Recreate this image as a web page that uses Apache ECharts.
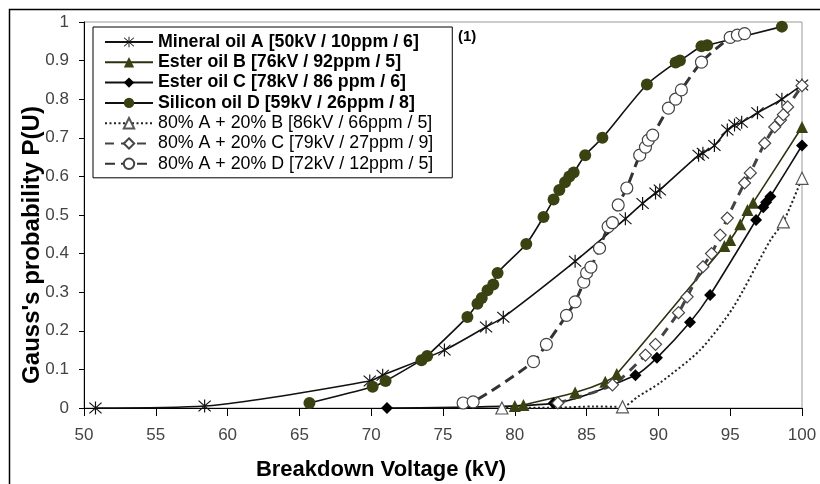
<!DOCTYPE html>
<html>
<head>
<meta charset="utf-8">
<script src="https://cdn.jsdelivr.net/npm/echarts@6/dist/echarts.min.js"></script>
<style>html,body{margin:0;padding:0;background:#fff}#c{width:820px;height:484px}</style>
</head>
<body>
<div id="c"></div>
<script>
// ---- data ----
const seriesNames = [
  'Mineral oil A [50kV / 10ppm / 6]',
  'Ester oil B [76kV / 92ppm / 5]',
  'Ester oil C [78kV / 86 ppm / 6]',
  'Silicon oil D [59kV / 26ppm / 8]',
  '80% A + 20% B [86kV / 66ppm / 5]',
  '80% A + 20% C [79kV / 27ppm / 9]',
  '80% A + 20% D [72kV / 12ppm / 5]'
];
const xTicks = [50,55,60,65,70,75,80,85,90,95,100];
const yTicks = [0,0.1,0.2,0.3,0.4,0.5,0.6,0.7,0.8,0.9,1];

const mineralA = [[50.8,0],[58.4,0.005],[69.9,0.07],[70.8,0.085],[75.1,0.15],[78.0,0.21],[79.2,0.235],[84.2,0.38],[87.7,0.49],[88.9,0.53],[89.8,0.557],[90.1,0.565],[92.8,0.655],[93.1,0.66],[93.9,0.68],[94.8,0.72],[95.3,0.733],[95.8,0.74],[96.9,0.765],[98.6,0.80],[100,0.837]];
const esterB = [[80.0,0.005],[80.6,0.008],[84.2,0.04],[86.3,0.068],[87.1,0.088],[94.6,0.42],[95.0,0.435],[95.7,0.476],[96.2,0.513],[96.6,0.532],[100,0.728]];
const esterC = [[71.1,0],[82.7,0.012],[88.4,0.085],[89.9,0.13],[92.2,0.222],[93.6,0.293],[96.8,0.487],[97.3,0.52],[97.5,0.533],[97.8,0.548],[100,0.68]];
const siliconD = [[65.7,0.013],[70.1,0.055],[71.0,0.07],[73.5,0.124],[73.9,0.135],[76.7,0.236],[77.4,0.27],[77.7,0.285],[78.1,0.305],[78.5,0.32],[78.8,0.35],[80.8,0.425],[82.0,0.495],[82.7,0.54],[83.1,0.565],[83.5,0.585],[83.8,0.60],[84.1,0.61],[84.9,0.655],[86.1,0.70],[89.2,0.838],[91.2,0.895],[91.5,0.90],[93.0,0.937],[93.4,0.94],[98.6,0.988]];
const mixAB = [[79.1,0],[87.5,0.003],[98.7,0.482],[100,0.595]];
const mixABCurve = [[83.0,0.001],[85.5,0.004],[88.6,0.03],[90.1,0.065],[92.9,0.15],[95.2,0.26],[97.8,0.435]];
const mixAC = [[83.0,0.013],[86.8,0.06],[89.1,0.137],[89.8,0.165],[91.4,0.247],[92.0,0.288],[93.1,0.366],[93.7,0.40],[94.3,0.448],[94.8,0.492],[96.0,0.583],[96.4,0.609],[97.4,0.686],[98.1,0.728],[98.5,0.746],[98.7,0.76],[99.0,0.78],[100,0.835]];
const mixAD = [[76.4,0.013],[77.1,0.016],[81.3,0.12],[82.2,0.165],[83.6,0.24],[84.2,0.275],[84.8,0.326],[85.0,0.35],[85.3,0.365],[85.9,0.414],[86.5,0.47],[86.8,0.48],[87.2,0.526],[87.8,0.57],[88.7,0.655],[89.1,0.676],[89.3,0.694],[89.6,0.707],[90.7,0.777],[91.2,0.80],[91.6,0.824],[93.0,0.896],[95.0,0.96],[95.5,0.966],[96.0,0.97]];

// ---- build ----
const asterisk = 'path://M9.2,0L10.8,0L10.8,20L9.2,20Z M1.2,2.3L2.3,1.2L18.8,17.7L17.7,18.8Z M17.7,1.2L18.8,2.3L2.3,18.8L1.2,17.7Z';

const abData = mixAB.map(p => ({value: p}))
  .concat(mixABCurve.map(p => ({value: p, symbol: 'none'})))
  .sort((a, b) => a.value[0] - b.value[0]);

const olive = '#3b4212';
const FONT = 'Arial, Liberation Sans';
const base = {type: 'line', smooth: 0.25, z: 3};

const series = [
  Object.assign({}, base, {name: seriesNames[0], data: mineralA, symbol: asterisk, symbolSize: 13,
    lineStyle: {color: '#111', width: 1.6}, itemStyle: {color: '#111'}}),
  Object.assign({}, base, {name: seriesNames[1], data: esterB, symbol: 'triangle', symbolSize: 12,
    lineStyle: {color: '#2a3310', width: 1.6}, itemStyle: {color: olive}}),
  Object.assign({}, base, {name: seriesNames[2], data: esterC, symbol: 'diamond', symbolSize: 12,
    lineStyle: {color: '#111', width: 1.6}, itemStyle: {color: '#000'}}),
  Object.assign({}, base, {name: seriesNames[3], data: siliconD, symbol: 'circle', symbolSize: 12,
    lineStyle: {color: '#111', width: 1.6}, itemStyle: {color: olive}}),
  Object.assign({}, base, {name: seriesNames[4], data: abData, symbol: 'triangle', symbolSize: 12,
    lineStyle: {color: '#222', width: 2, type: [2, 2.5]}, itemStyle: {color: '#fff', borderColor: '#555', borderWidth: 1.2}}),
  Object.assign({}, base, {name: seriesNames[5], data: mixAC, symbol: 'diamond', symbolSize: 12,
    lineStyle: {color: '#444', width: 3, type: [9, 7]}, itemStyle: {color: '#fff', borderColor: '#444', borderWidth: 1.2}}),
  Object.assign({}, base, {name: seriesNames[6], data: mixAD, symbol: 'circle', symbolSize: 12,
    lineStyle: {color: '#333', width: 3, type: [10, 6]}, itemStyle: {color: '#fff', borderColor: '#444', borderWidth: 1.2}})
];

const chart = echarts.init(document.getElementById('c'), null, {renderer: 'canvas'});
chart.setOption({
  animation: false,
  backgroundColor: '#fff',
  grid: {left: 84, right: 18, top: 22, bottom: 76, show: true, borderColor: '#999', borderWidth: 1},
  xAxis: {
    type: 'value', min: xTicks[0], max: xTicks[xTicks.length - 1], interval: 5,
    axisLine: {lineStyle: {color: '#000', width: 1}},
    axisTick: {show: true, length: 8, lineStyle: {color: '#000'}},
    splitLine: {show: false},
    axisLabel: {color: '#444', fontSize: 17, fontFamily: FONT, margin: 19,
      formatter: v => xTicks.includes(v) ? String(v) : ''}
  },
  yAxis: {
    type: 'value', min: yTicks[0], max: yTicks[yTicks.length - 1], interval: 0.1,
    axisLine: {show: true, lineStyle: {color: '#000', width: 1}},
    axisTick: {show: true, length: 5, lineStyle: {color: '#000'}},
    splitLine: {show: false},
    axisLabel: {color: '#444', fontSize: 17, fontFamily: FONT, margin: 15,
      formatter: v => {
        const t = yTicks.find(k => Math.abs(k - v) < 1e-6);
        return t === undefined ? '' : (t === 0 || t === 1 ? String(t) : t.toFixed(1));
      }}
  },
  legend: {
    orient: 'vertical', left: 93, top: 27, data: seriesNames,
    backgroundColor: '#fff', borderColor: '#000', borderWidth: 1,
    padding: [5, 19, 4, 11], itemGap: 0.3, itemWidth: 48, itemHeight: 13,
    textStyle: {color: '#000', fontSize: 17.8, fontFamily: FONT, lineHeight: 20,
      rich: {b: {fontWeight: 'bold', fontSize: 17.8, lineHeight: 20, fontFamily: FONT},
             n: {fontWeight: 'normal', fontSize: 17.8, lineHeight: 20, fontFamily: FONT}}},
    formatter: name => name.indexOf('80%') === 0 ? '{n|' + name + '}' : '{b|' + name + '}'
  },
  graphic: [
    {type: 'rect', shape: {x: 9.5, y: 9.5, width: 820, height: 490}, style: {fill: 'none', stroke: '#000', lineWidth: 1.5}, silent: true},
    {type: 'text', x: 458, y: 37, style: {text: '(1)', font: 'bold 15px ' + FONT, fill: '#000', align: 'left', verticalAlign: 'middle'}},
    {type: 'text', x: 32, y: 245, rotation: Math.PI / 2,
      style: {text: "Gauss's probability P(U)", font: 'bold 24px ' + FONT, fill: '#000', align: 'center', verticalAlign: 'middle'}},
    {type: 'text', x: 381, y: 470,
      style: {text: 'Breakdown Voltage (kV)', font: 'bold 22px ' + FONT, fill: '#000', align: 'center', verticalAlign: 'middle'}}
  ],
  series: series
});
</script>
</body>
</html>
